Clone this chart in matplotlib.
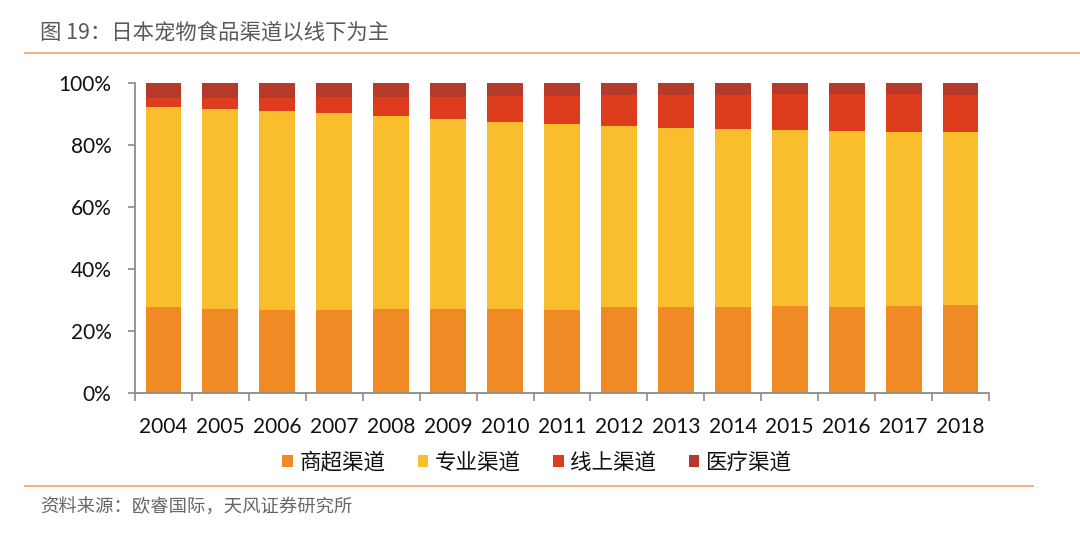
import matplotlib
matplotlib.use("Agg")
import matplotlib.pyplot as plt
from matplotlib.ticker import FuncFormatter, FixedLocator
import numpy as np

plt.rcParams['font.family'] = ['Lato', 'Noto Sans CJK SC', 'DejaVu Sans']

years = ['2004', '2005', '2006', '2007', '2008', '2009', '2010', '2011',
         '2012', '2013', '2014', '2015', '2016', '2017', '2018']
series_names = ['商超渠道', '专业渠道', '线上渠道', '医疗渠道']
supermarket = [27.6, 27.1, 26.8, 26.8, 27.0, 27.0, 27.0, 26.8, 27.6, 27.6, 27.8, 28.1, 27.8, 28.1, 28.4]
specialty = [64.8, 64.5, 64.3, 63.5, 62.2, 61.3, 60.3, 59.9, 58.5, 58.0, 57.4, 56.6, 56.7, 56.1, 55.7]
online = [2.7, 3.5, 4.2, 5.1, 6.2, 7.3, 8.5, 9.2, 10.0, 10.5, 11.0, 11.8, 11.8, 12.1, 12.0]
medical = [4.9, 4.9, 4.7, 4.6, 4.6, 4.4, 4.2, 4.1, 3.9, 3.9, 3.8, 3.5, 3.7, 3.7, 3.9]
yticks = [0, 20, 40, 60, 80, 100]

colors = ['#F08A24', '#F8BE2E', '#DE3D1D', '#B63A29']

fig = plt.figure(figsize=(10.8, 5.45), dpi=100)
fig.patch.set_facecolor('white')
ax = fig.add_axes([135 / 1080, 1 - 393 / 545, (989 - 135) / 1080, (393 - 83) / 545])

x = np.arange(len(years))
bottom = np.zeros(len(years))
handles = []
for vals, c, name in zip([supermarket, specialty, online, medical], colors, series_names):
    v = np.array(vals, dtype=float)
    h = ax.bar(x, v, width=0.63, bottom=bottom, color=c, label=name, linewidth=0)
    handles.append(h)
    bottom += v

ax.set_xlim(-0.5, len(years) - 0.5)
ax.set_ylim(0, 100)
ax.set_yticks(yticks)
ax.yaxis.set_major_formatter(FuncFormatter(lambda v, p: f"{int(v)}%"))
ax.set_xticks(x)
ax.set_xticklabels(years)
ax.xaxis.set_minor_locator(FixedLocator(np.arange(-0.5, len(years), 1.0)))

for s in ['top', 'right']:
    ax.spines[s].set_visible(False)
for s in ['left', 'bottom']:
    ax.spines[s].set_color('#8C8C8C')
    ax.spines[s].set_linewidth(1.3)

ax.tick_params(axis='y', which='major', length=5, width=1.2, color='#8C8C8C',
               labelsize=15, pad=12, labelcolor='#111111')
ax.tick_params(axis='x', which='major', length=0, labelsize=15, pad=17, labelcolor='#111111')
ax.tick_params(axis='x', which='minor', length=6, width=1.2, color='#8C8C8C')

leg = fig.legend(handles=handles, labels=series_names, loc='center',
                 bbox_to_anchor=(537 / 1080, 1 - 463 / 545), ncol=4, frameon=False,
                 prop={'family': ['Noto Sans CJK SC'], 'size': 15.5},
                 handlelength=0.5, handleheight=0.5, handletextpad=0.3,
                 columnspacing=1.5, borderaxespad=0)
for t in leg.get_texts():
    t.set_color('#111111')

# Title and separators
fig.text(40 / 1080, 1 - 33 / 545, '图 19：日本宠物食品渠道以线下为主', fontsize=15.4,
         color='#595959', va='center', ha='left', family=['Noto Sans CJK SC', 'DejaVu Sans'])
fig.add_artist(plt.Line2D([25 / 1080, 1.0], [1 - 53 / 545, 1 - 53 / 545],
                          color='#F2A877', linewidth=1.3, transform=fig.transFigure))
fig.add_artist(plt.Line2D([25 / 1080, 1033 / 1080], [1 - 486 / 545, 1 - 486 / 545],
                          color='#F2A877', linewidth=1.3, transform=fig.transFigure))
fig.text(40 / 1080, 1 - 508 / 545, '资料来源：欧睿国际，天风证券研究所', fontsize=13.2,
         color='#666666', va='center', ha='left', family=['Noto Sans CJK SC', 'DejaVu Sans'])

fig.savefig('out.png', dpi=100, facecolor='white')
